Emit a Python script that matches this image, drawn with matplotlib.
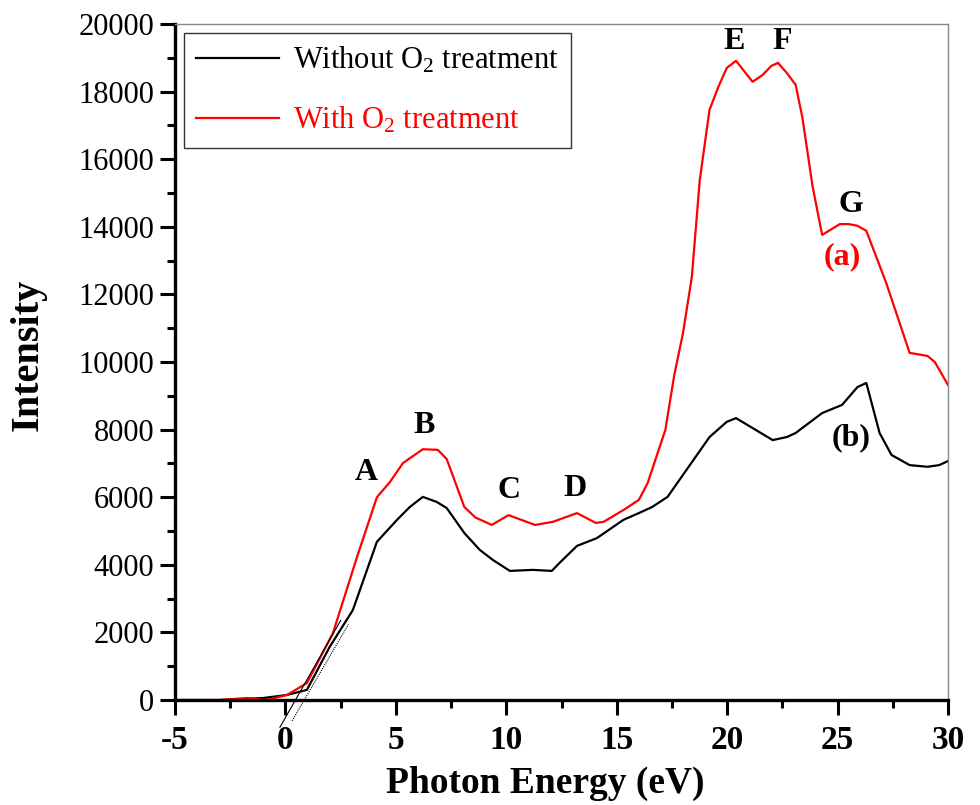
import matplotlib
matplotlib.use("Agg")
import matplotlib.pyplot as plt
from matplotlib.ticker import MultipleLocator

plt.rcParams.update({
    "font.family": "Liberation Serif",
    "mathtext.fontset": "custom",
    "mathtext.rm": "Liberation Serif",
    "axes.unicode_minus": False,
})

# photon energy (eV) / intensity, without O2 treatment
energy_b = [-5, -3, -1, 0.07, 0.97, 2.0, 3.05, 4.14, 5.05, 5.63, 6.22, 6.85, 7.3, 8.1,
            8.8, 9.4, 10.16, 11.2, 12.06, 12.4, 13.2, 14.1, 14.7, 15.3, 16.0, 16.6,
            17.3, 19.2, 19.98, 20.4, 22.06, 22.7, 23.1, 24.3, 25.2, 25.9, 26.3, 26.9,
            27.44, 28.26, 29.07, 29.6, 30]
intensity_b = [0, 0, 60, 150, 300, 1570, 2660, 4680, 5330, 5710, 6010, 5860, 5680, 4940,
               4440, 4140, 3820, 3850, 3820, 4050, 4560, 4790, 5060, 5330, 5530, 5710,
               6010, 7780, 8230, 8340, 7690, 7780, 7900, 8490, 8730, 9260, 9380, 7900,
               7250, 6950, 6900, 6950, 7070]

# with O2 treatment
energy_a = [-5, -3, -1.74, -0.84, 0.07, 0.97, 2.15, 3.24, 4.14, 4.73, 5.32, 6.22, 6.9,
            7.3, 8.1, 8.6, 9.34, 10.1, 11.3, 12.1, 13.2, 14.05, 14.4, 15.3, 16.0, 16.4,
            17.2, 17.6, 18.0, 18.4, 18.76, 19.2, 19.6, 19.98, 20.4, 21.15, 21.6, 22.0,
            22.3, 22.7, 23.1, 23.4, 23.87, 24.3, 25.1, 25.5, 25.9, 26.3, 27.2, 28.26,
            29.07, 29.4, 30]
intensity_a = [0, 0, 60, 0, 150, 500, 1980, 4230, 6000, 6450, 7010, 7420, 7400,
               7130, 5710, 5400, 5180, 5470, 5180, 5270, 5530, 5240, 5270, 5620, 5920, 6420,
               7990, 9600, 10860, 12520, 15390, 17460, 18140, 18700, 18910, 18290, 18490, 18760,
               18850, 18550, 18200, 17250, 15180, 13760, 14080, 14080, 14030, 13880, 12340, 10270,
               10180, 10000, 9320]

# band-gap tangent lines
tangent_x = [-0.25, 2.5]
tangent_y = [-805, 2357]
tangent2_x = [0.3, 2.85]
tangent2_y = [-616, 2240]

peak_labels = ["A", "B", "C", "D", "E", "F", "G"]
peak_x = [3.64, 6.27, 10.1, 13.1, 20.3, 22.5, 25.6]
peak_y = [6740, 8130, 6210, 6270, 19470, 19470, 14670]

fig = plt.figure(figsize=(9.8, 8.05), dpi=100)
ax = fig.add_axes([0.1786, 0.1304, 0.7888, 0.8398])

ax.plot(energy_b, intensity_b, color="black", lw=1.6, label="Without $\\mathregular{O_2}$ treatment")
ax.plot(energy_a, intensity_a, color="red", lw=1.6, label="With $\\mathregular{O_2}$ treatment")
ax.plot(tangent_x, tangent_y, color="black", lw=0.8, clip_on=False)
ax.plot(tangent2_x, tangent2_y, color="black", lw=0.8, ls=(0, (1, 1)), clip_on=False)

for lab, px, py in zip(peak_labels, peak_x, peak_y):
    ax.text(px, py, lab, fontsize=23, fontweight="bold", ha="center", va="center")
ax.text(25.2, 13110, "(a)", fontsize=23, fontweight="bold", color="red", ha="center", va="center")
ax.text(25.6, 7750, "(b)", fontsize=23, fontweight="bold", ha="center", va="center")

ax.set_xlim(-5, 30)
ax.set_ylim(0, 20000)
ax.xaxis.set_major_locator(MultipleLocator(5))
ax.xaxis.set_minor_locator(MultipleLocator(2.5))
ax.yaxis.set_major_locator(MultipleLocator(2000))
ax.yaxis.set_minor_locator(MultipleLocator(1000))

ax.tick_params(which="both", direction="out", width=2.2, top=False, right=False)
ax.tick_params(which="major", length=11)
ax.tick_params(which="minor", length=6)
ax.tick_params(axis="y", labelsize=22, pad=4)
ax.tick_params(axis="x", labelsize=24, pad=7)
for t in ax.get_xticklabels():
    t.set_fontweight("bold")

for side in ["left", "bottom"]:
    ax.spines[side].set_linewidth(2.4)
for side in ["top", "right"]:
    ax.spines[side].set_linewidth(1.0)
    ax.spines[side].set_color("#888888")

ax.set_xlabel("Photon Energy (eV)", fontsize=27, fontweight="bold")
ax.xaxis.set_label_coords(0.479, -0.098)
ax.set_ylabel("Intensity", fontsize=29, fontweight="bold")
ax.yaxis.set_label_coords(-0.166, 0.51)

leg = ax.legend(loc="upper left", fontsize=22, frameon=True, fancybox=False,
                edgecolor="black", handlelength=2.7, borderaxespad=0.3,
                labelspacing=0.95, handletextpad=0.45, borderpad=0.4)
leg.get_frame().set_linewidth(1.0)
leg.get_texts()[1].set_color("red")

fig.savefig("out.png", dpi=100)
